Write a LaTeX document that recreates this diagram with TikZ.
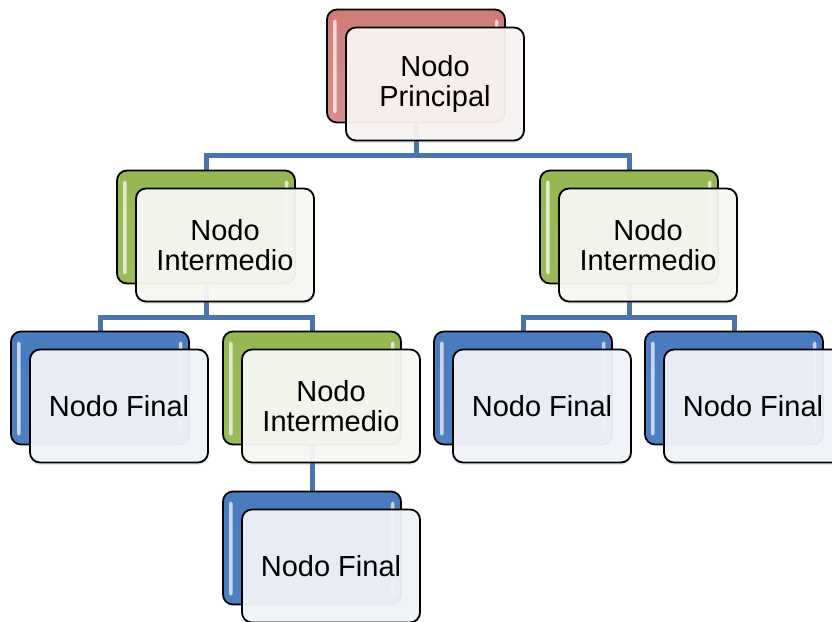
\documentclass[tikz,border=0pt]{standalone}
\usepackage{fontspec}
\setmainfont{Liberation Sans}
\usetikzlibrary{calc,shadows,backgrounds}

\newcommand{\nodefont}{\fontsize{29}{30}\selectfont}

% One hierarchy entry: a glossy coloured card with a pale card laid over it.
% #1 name, #2 x and #3 y of the coloured card's centre, #4 palette, #5 text
\newcommand{\cardpair}[5]{%
  \node[backbox, #4back] (#1-b) at (#2,#3) {};
  \fill[white, opacity=0.7, rounded corners=1.5pt]
    ([xshift=7pt,yshift=-11pt]#1-b.north west) rectangle ([xshift=10.5pt,yshift=10pt]#1-b.south west);
  \fill[white, opacity=0.7, rounded corners=1.5pt]
    ([xshift=-11pt,yshift=-11pt]#1-b.north east) rectangle ([xshift=-7.5pt,yshift=10pt]#1-b.south east);
  \node[frontbox, #4front] (#1) at (#2+19,#3+18) {#5};
}

\tikzset{
  cardbase/.style={rounded corners=10pt, minimum width=178pt, minimum height=113pt,
    inner sep=0pt, draw=black, line width=1.8pt},
  backbox/.style={cardbase},
  frontbox/.style={cardbase, fill opacity=0.95, text opacity=1, align=center,
    font=\nodefont, drop shadow={shadow xshift=0pt, shadow yshift=-2.5pt, opacity=0.18}},
  redback/.style={top color=redA, middle color=redB, bottom color=redC},
  redfront/.style={fill=redF},
  greenback/.style={top color=greenA, middle color=greenB, bottom color=greenC},
  greenfront/.style={fill=greenF},
  blueback/.style={top color=blueA, middle color=blueB, bottom color=blueC},
  bluefront/.style={fill=blueF},
  conn/.style={draw=connblue, line width=5pt, line join=miter},
}

\definecolor{redA}{HTML}{CF7C79}
\definecolor{redB}{HTML}{E3A6A4}
\definecolor{redC}{HTML}{D88E8B}
\definecolor{redF}{HTML}{F9F3F3}
\definecolor{greenA}{HTML}{96B853}
\definecolor{greenB}{HTML}{B2CD7A}
\definecolor{greenC}{HTML}{9ABB5B}
\definecolor{greenF}{HTML}{F7F8F3}
\definecolor{blueA}{HTML}{4A7BBE}
\definecolor{blueB}{HTML}{6F9BD4}
\definecolor{blueC}{HTML}{4E7FC1}
\definecolor{blueF}{HTML}{F0F3F9}
\definecolor{connblue}{HTML}{4A74AC}

\begin{document}
\begin{tikzpicture}[x=1pt, y=-1pt]
  \useasboundingbox (0,0) rectangle (832,621);
  \clip (0,0) rectangle (832,621);

  % cards
  \cardpair{top}{416}{66}{red}{Nodo\\Principal}
  \cardpair{midL}{206}{227}{green}{Nodo\\Intermedio}
  \cardpair{midR}{629}{227}{green}{Nodo\\Intermedio}
  \cardpair{finA}{100}{388}{blue}{Nodo Final}
  \cardpair{midC}{312}{388}{green}{Nodo\\Intermedio}
  \cardpair{finB}{523}{388}{blue}{Nodo Final}
  \cardpair{finC}{734}{388}{blue}{Nodo Final}
  \cardpair{finD}{312}{548}{blue}{Nodo Final}

  % connectors, kept behind the cards
  \begin{pgfonlayer}{background}
    \path (top.south) ++(0,14) coordinate (bus0);
    \path (midL.south) ++(0,15) coordinate (bus1);
    \path (midR.south) ++(0,15) coordinate (bus2);
    \draw[conn] (top-b.center) -- (top-b.center |- bus0) -| (midL-b.center);
    \draw[conn] (top-b.center |- bus0) -| (midR-b.center);
    \draw[conn] (midL-b.center) -- (midL-b.center |- bus1) -| (finA-b.center);
    \draw[conn] (midL-b.center |- bus1) -| (midC-b.center);
    \draw[conn] (midR-b.center) -- (midR-b.center |- bus2) -| (finB-b.center);
    \draw[conn] (midR-b.center |- bus2) -| (finC-b.center);
    \draw[conn] (midC-b.center) -- (finD-b.center);
  \end{pgfonlayer}
\end{tikzpicture}
\end{document}
